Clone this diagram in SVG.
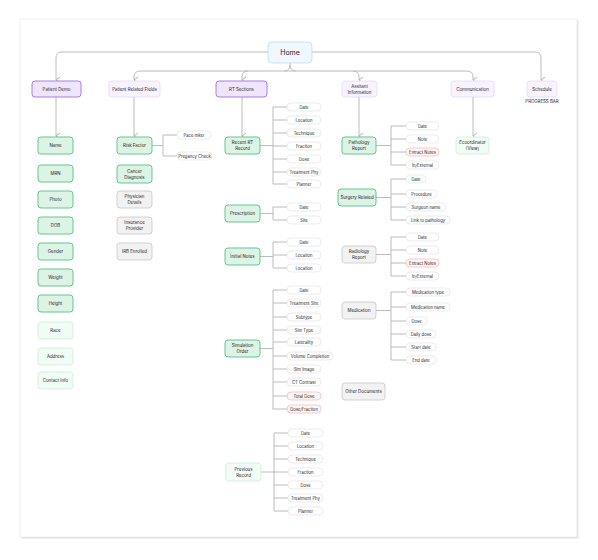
<svg xmlns="http://www.w3.org/2000/svg" width="598" height="560" viewBox="0 0 598 560">
<defs>
<style>
text{font-family:Inter,"Liberation Sans",sans-serif;font-size:4.4px;fill:#1f1f1f;text-anchor:middle;dominant-baseline:central}
.home rect{fill:#f0f7ff;stroke:#bddcf5;stroke-width:0.8}
.home text{font-size:7px}
.pd rect{fill:#efe5fc;stroke:#a87cef;stroke-width:1}
.pl rect{fill:#f8f3fe;stroke:#e5d8fb;stroke-width:0.8}
.gd rect{fill:#ddf3e6;stroke:#62c791;stroke-width:1}
.gl rect{fill:#f2fcf6;stroke:#c9f0d7;stroke-width:0.8}
.gr rect{fill:#f2f2f2;stroke:#c8c8c8;stroke-width:0.8}
.pill rect{fill:#fff;stroke:#e4e4e4;stroke-width:0.7}
.pink rect{fill:#fff6f6;stroke:#f3b6b6;stroke-width:0.7}
.pill text,.pink text{font-size:4.2px}
#connectors path{fill:none;stroke:#b4b4b4;stroke-width:0.9}
.note{font-size:4.2px}
</style>
<marker id="arr" viewBox="0 0 8 6" refX="4" refY="5" markerWidth="8" markerHeight="6" markerUnits="userSpaceOnUse" orient="auto-start-reverse">
<path d="M1,1 L4,5 L7,1" fill="none" stroke="#a8a8a8" stroke-width="0.9"/>
</marker>
</defs>
<rect width="598" height="560" fill="#ffffff"/>
<rect x="21.5" y="20.5" width="557" height="518" fill="#e2e2e2"/>
<rect x="20" y="19" width="557" height="518" fill="#ffffff" stroke="#ececec" stroke-width="0.8"/>

<g id="connectors">
<path d="M268,52 H62 Q56,52 56,58 V80" marker-end="url(#arr)"/>
<path d="M312,52 H535 Q541,52 541,58 V80" marker-end="url(#arr)"/>
<path d="M140,71 H467"/>
<path d="M284,71 Q290,71 290,65 V63 M290,65 Q290,71 296,71"/>
<path d="M140,71 Q134,71 134,77 V80" marker-end="url(#arr)"/>
<path d="M248,71 Q242,71 242,77 V80" marker-end="url(#arr)"/>
<path d="M353,71 Q359,71 359,77 V80" marker-end="url(#arr)"/>
<path d="M467,71 Q473,71 473,77 V80" marker-end="url(#arr)"/>
<path d="M56,97 V136" marker-end="url(#arr)"/>
<path d="M134,97 V136" marker-end="url(#arr)"/>
<path d="M242,97 V136" marker-end="url(#arr)"/>
<path d="M359,97 V136" marker-end="url(#arr)"/>
<path d="M473,97 V136" marker-end="url(#arr)"/>
<path d="M152,145.5 H163 M163,135 V156 M163,135 H177 M163,156 H177"/>
<path d="M260,145.5 H273 M273,107 V184 M273,107 H287 M273,120 H287 M273,133 H287 M273,146 H287 M273,159 H287 M273,172 H287 M273,184 H287"/>
<path d="M260,213.5 H273 M273,207 V220 M273,207 H287 M273,220 H287"/>
<path d="M260,256.5 H273 M273,242 V268 M273,242 H287 M273,255 H287 M273,268 H287"/>
<path d="M260,348.5 H273 M273,290 V409 M273,290 H287 M273,303 H287 M273,317 H287 M273,330 H287 M273,342 H287 M273,356 H287 M273,369 H287 M273,382 H287 M273,396 H287 M273,409 H287"/>
<path d="M260,472 H274 M274,433 V511 M274,433 H288 M274,446 H288 M274,459 H288 M274,472 H288 M274,485 H288 M274,498 H288 M274,511 H288"/>
<path d="M376,145.5 H391 M391,126 V165 M391,126 H406 M391,139 H406 M391,152 H406 M391,165 H406"/>
<path d="M376,197.5 H391 M391,179 V220 M391,179 H406 M391,194 H406 M391,207 H406 M391,220 H406"/>
<path d="M376,254.5 H391 M391,237 V276 M391,237 H406 M391,250 H406 M391,263 H406 M391,276 H406"/>
<path d="M376,310.5 H391 M391,292 V360 M391,292 H406 M391,307 H406 M391,321 H406 M391,334 H406 M391,347 H406 M391,360 H406"/>
</g>

<g id="home" class="home"><rect x="268" y="42" width="44" height="21" rx="4"/><text x="290" y="52.5">Home</text></g>

<g id="patient-demo" class="pd"><rect x="32" y="81" width="49" height="16" rx="3"/><text x="56.5" y="89">Patient Demo</text></g>
<g id="patient-related" class="pl"><rect x="109" y="81" width="51" height="16" rx="3"/><text x="134.5" y="89">Patient Related Fields</text></g>
<g id="rt-sections" class="pd"><rect x="216" y="81" width="51" height="16" rx="3"/><text x="241.5" y="89">RT Sections</text></g>
<g id="assistant-info" class="pl"><rect x="342" y="81" width="35" height="16" rx="3"/><text x="359.5" y="86.3">Assitant</text><text x="359.5" y="92.3">Information</text></g>
<g id="communication" class="pl"><rect x="451" y="81" width="43" height="16" rx="3"/><text x="472.5" y="89">Communication</text></g>
<g id="schedule" class="pl"><rect x="527" y="81" width="30" height="16" rx="3"/><text x="542" y="89">Schedule</text><text x="542" y="101.5">PROGRESS BAR</text></g>

<g id="name" class="gd"><rect x="38" y="137" width="35" height="17" rx="3"/><text x="55.5" y="145.5">Name</text></g>
<g id="mrn" class="gd"><rect x="38" y="165" width="35" height="17" rx="3"/><text x="55.5" y="173.5">MRN</text></g>
<g id="photo" class="gd"><rect x="38" y="191" width="35" height="17" rx="3"/><text x="55.5" y="199.5">Photo</text></g>
<g id="dob" class="gd"><rect x="38" y="217" width="35" height="17" rx="3"/><text x="55.5" y="225.5">DOB</text></g>
<g id="gender" class="gd"><rect x="38" y="243" width="35" height="17" rx="3"/><text x="55.5" y="251.5">Gender</text></g>
<g id="weight" class="gd"><rect x="38" y="269" width="35" height="17" rx="3"/><text x="55.5" y="277.5">Weight</text></g>
<g id="height" class="gd"><rect x="38" y="295" width="35" height="17" rx="3"/><text x="55.5" y="303.5">Height</text></g>
<g id="race" class="gl"><rect x="38" y="322" width="35" height="17" rx="3"/><text x="55.5" y="330.5">Race</text></g>
<g id="address" class="gl"><rect x="38" y="348" width="35" height="17" rx="3"/><text x="55.5" y="356.5">Address</text></g>
<g id="contact-info" class="gl"><rect x="38" y="372" width="35" height="17" rx="3"/><text x="55.5" y="380.5">Contact Info</text></g>

<g id="risk-factor" class="gd"><rect x="117" y="137" width="35" height="17" rx="3"/><text x="134.5" y="145.5">Risk Factor</text></g>
<g id="cancer-diagnosis" class="gd"><rect x="117" y="165" width="35" height="18" rx="3"/><text x="134.5" y="171.2">Cancer</text><text x="134.5" y="177.2">Diagnosis</text></g>
<g id="physician-details" class="gr"><rect x="117" y="191" width="35" height="17" rx="3"/><text x="134.5" y="196.7">Physician</text><text x="134.5" y="202.7">Details</text></g>
<g id="insurance-provider" class="gr"><rect x="117" y="217" width="35" height="17" rx="3"/><text x="134.5" y="222.7">Insurance</text><text x="134.5" y="228.7">Provider</text></g>
<g id="irb-enrolled" class="gr"><rect x="117" y="243" width="35" height="17" rx="3"/><text x="134.5" y="251.5">IRB Enrolled</text></g>
<g id="pace-mker" class="pill"><rect x="177" y="131" width="34" height="8" rx="4"/><text x="194" y="135">Pace mker</text></g>
<g id="pregancy-check" class="pill"><rect x="177" y="152" width="35" height="8" rx="4"/><text x="194.5" y="156">Pregancy Check</text></g>

<g id="recent-rt-record" class="gd"><rect x="225" y="137" width="35" height="17" rx="3"/><text x="242.5" y="142.7">Recent RT</text><text x="242.5" y="148.7">Record</text></g>
<g id="rr-date" class="pill"><rect x="287" y="103" width="34" height="8" rx="4"/><text x="304" y="107">Date</text></g>
<g id="rr-location" class="pill"><rect x="287" y="116" width="34" height="8" rx="4"/><text x="304" y="120">Location</text></g>
<g id="rr-technique" class="pill"><rect x="287" y="129" width="34" height="8" rx="4"/><text x="304" y="133">Technique</text></g>
<g id="rr-fraction" class="pill"><rect x="287" y="142" width="34" height="8" rx="4"/><text x="304" y="146">Fraction</text></g>
<g id="rr-dose" class="pill"><rect x="287" y="155" width="34" height="8" rx="4"/><text x="304" y="159">Dose</text></g>
<g id="rr-treatment-phy" class="pill"><rect x="287" y="168" width="34" height="8" rx="4"/><text x="304" y="172">Treatment Phy</text></g>
<g id="rr-planner" class="pill"><rect x="287" y="180" width="34" height="8" rx="4"/><text x="304" y="184">Planner</text></g>

<g id="prescription" class="gd"><rect x="225" y="205" width="35" height="17" rx="3"/><text x="242.5" y="213.5">Prescription</text></g>
<g id="pr-date" class="pill"><rect x="287" y="203" width="34" height="8" rx="4"/><text x="304" y="207">Date</text></g>
<g id="pr-site" class="pill"><rect x="287" y="216" width="34" height="8" rx="4"/><text x="304" y="220">Site</text></g>

<g id="initial-notes" class="gd"><rect x="225" y="248" width="35" height="17" rx="3"/><text x="242.5" y="256.5">Initial Notes</text></g>
<g id="in-date" class="pill"><rect x="287" y="238" width="34" height="8" rx="4"/><text x="304" y="242">Date</text></g>
<g id="in-location1" class="pill"><rect x="287" y="251" width="34" height="8" rx="4"/><text x="304" y="255">Location</text></g>
<g id="in-location2" class="pill"><rect x="287" y="264" width="34" height="8" rx="4"/><text x="304" y="268">Location</text></g>

<g id="simulation-order" class="gd"><rect x="225" y="340" width="35" height="17" rx="3"/><text x="242.5" y="345.7">Simulation</text><text x="242.5" y="351.7">Order</text></g>
<g id="so-date" class="pill"><rect x="287" y="286" width="34" height="8" rx="4"/><text x="304" y="290">Date</text></g>
<g id="so-treatment-site" class="pill"><rect x="287" y="299" width="34" height="8" rx="4"/><text x="304" y="303">Treatment Site</text></g>
<g id="so-subtype" class="pill"><rect x="287" y="313" width="34" height="8" rx="4"/><text x="304" y="317">Subtype</text></g>
<g id="so-sim-type" class="pill"><rect x="287" y="326" width="34" height="8" rx="4"/><text x="304" y="330">Sim Type</text></g>
<g id="so-laterality" class="pill"><rect x="287" y="338" width="34" height="8" rx="4"/><text x="304" y="342">Laterality</text></g>
<g id="so-volume-completion" class="pill"><rect x="287" y="352" width="46" height="8" rx="4"/><text x="310" y="356">Volume Completion</text></g>
<g id="so-sim-image" class="pill"><rect x="287" y="365" width="34" height="8" rx="4"/><text x="304" y="369">Sim Image</text></g>
<g id="so-ct-contrast" class="pill"><rect x="287" y="378" width="34" height="8" rx="4"/><text x="304" y="382">CT Contrast</text></g>
<g id="so-total-dose" class="pink"><rect x="287" y="392" width="34" height="8" rx="4"/><text x="304" y="396">Total Dose</text></g>
<g id="so-dose-fraction" class="pink"><rect x="287" y="405" width="34" height="8" rx="4"/><text x="304" y="409">Dose/Fraction</text></g>

<g id="previous-record" class="gl"><rect x="226" y="463" width="35" height="18" rx="3"/><text x="243.5" y="469">Previous</text><text x="243.5" y="475">Record</text></g>
<g id="pv-date" class="pill"><rect x="288" y="429" width="35" height="8" rx="4"/><text x="305.5" y="433">Date</text></g>
<g id="pv-location" class="pill"><rect x="288" y="442" width="35" height="8" rx="4"/><text x="305.5" y="446">Location</text></g>
<g id="pv-technique" class="pill"><rect x="288" y="455" width="35" height="8" rx="4"/><text x="305.5" y="459">Technique</text></g>
<g id="pv-fraction" class="pill"><rect x="288" y="468" width="35" height="8" rx="4"/><text x="305.5" y="472">Fraction</text></g>
<g id="pv-dose" class="pill"><rect x="288" y="481" width="35" height="8" rx="4"/><text x="305.5" y="485">Dose</text></g>
<g id="pv-treatment-phy" class="pill"><rect x="288" y="494" width="35" height="8" rx="4"/><text x="305.5" y="498">Treatment Phy</text></g>
<g id="pv-planner" class="pill"><rect x="288" y="507" width="35" height="8" rx="4"/><text x="305.5" y="511">Planner</text></g>

<g id="pathology-report" class="gd"><rect x="342" y="137" width="34" height="17" rx="3"/><text x="359" y="142.7">Pathology</text><text x="359" y="148.7">Report</text></g>
<g id="pa-date" class="pill"><rect x="406" y="122" width="33" height="8" rx="4"/><text x="422.5" y="126">Date</text></g>
<g id="pa-note" class="pill"><rect x="406" y="135" width="33" height="8" rx="4"/><text x="422.5" y="139">Note</text></g>
<g id="pa-extract-notes" class="pink"><rect x="406" y="148" width="33" height="8" rx="4"/><text x="422.5" y="152">Extract Notes</text></g>
<g id="pa-in-external" class="pill"><rect x="406" y="161" width="33" height="8" rx="4"/><text x="422.5" y="165">In/External</text></g>

<g id="surgery-related" class="gd"><rect x="338" y="189" width="38" height="17" rx="3"/><text x="357" y="197.5">Surgery Related</text></g>
<g id="su-date" class="pill"><rect x="406" y="175" width="20" height="8" rx="4"/><text x="416" y="179">Date</text></g>
<g id="su-procedure" class="pill"><rect x="406" y="190" width="31" height="8" rx="4"/><text x="421.5" y="194">Procedure</text></g>
<g id="su-surgeon-name" class="pill"><rect x="406" y="203" width="40" height="8" rx="4"/><text x="426" y="207">Surgeon name</text></g>
<g id="su-link" class="pill"><rect x="406" y="216" width="44" height="8" rx="4"/><text x="428" y="220">Link to pathology</text></g>

<g id="radiology-report" class="gr"><rect x="342" y="246" width="34" height="17" rx="3"/><text x="359" y="251.7">Radiology</text><text x="359" y="257.7">Report</text></g>
<g id="ra-date" class="pill"><rect x="406" y="233" width="33" height="8" rx="4"/><text x="422.5" y="237">Date</text></g>
<g id="ra-note" class="pill"><rect x="406" y="246" width="33" height="8" rx="4"/><text x="422.5" y="250">Note</text></g>
<g id="ra-extract-notes" class="pink"><rect x="406" y="259" width="33" height="8" rx="4"/><text x="422.5" y="263">Extract Notes</text></g>
<g id="ra-in-external" class="pill"><rect x="406" y="272" width="33" height="8" rx="4"/><text x="422.5" y="276">In/External</text></g>

<g id="medication" class="gr"><rect x="342" y="302" width="34" height="17" rx="3"/><text x="359" y="310.5">Medication</text></g>
<g id="me-type" class="pill"><rect x="406" y="288" width="44" height="8" rx="4"/><text x="428" y="292">Medication type</text></g>
<g id="me-name" class="pill"><rect x="406" y="303" width="44" height="8" rx="4"/><text x="428" y="307">Medication name</text></g>
<g id="me-dose" class="pill"><rect x="406" y="317" width="21" height="8" rx="4"/><text x="416.5" y="321">Dose</text></g>
<g id="me-daily-dose" class="pill"><rect x="406" y="330" width="30" height="8" rx="4"/><text x="421" y="334">Daily dose</text></g>
<g id="me-start-date" class="pill"><rect x="406" y="343" width="30" height="8" rx="4"/><text x="421" y="347">Start date</text></g>
<g id="me-end-date" class="pill"><rect x="406" y="356" width="30" height="8" rx="4"/><text x="421" y="360">End date</text></g>

<g id="other-documents" class="gr"><rect x="342" y="383" width="43" height="17" rx="3"/><text x="363.5" y="391.5">Other Documents</text></g>

<g id="ecoordinator" class="gl"><rect x="456" y="137" width="33" height="17" rx="3"/><text x="472.5" y="142.7">Ecoordinator</text><text x="472.5" y="148.7">(View)</text></g>
</svg>
